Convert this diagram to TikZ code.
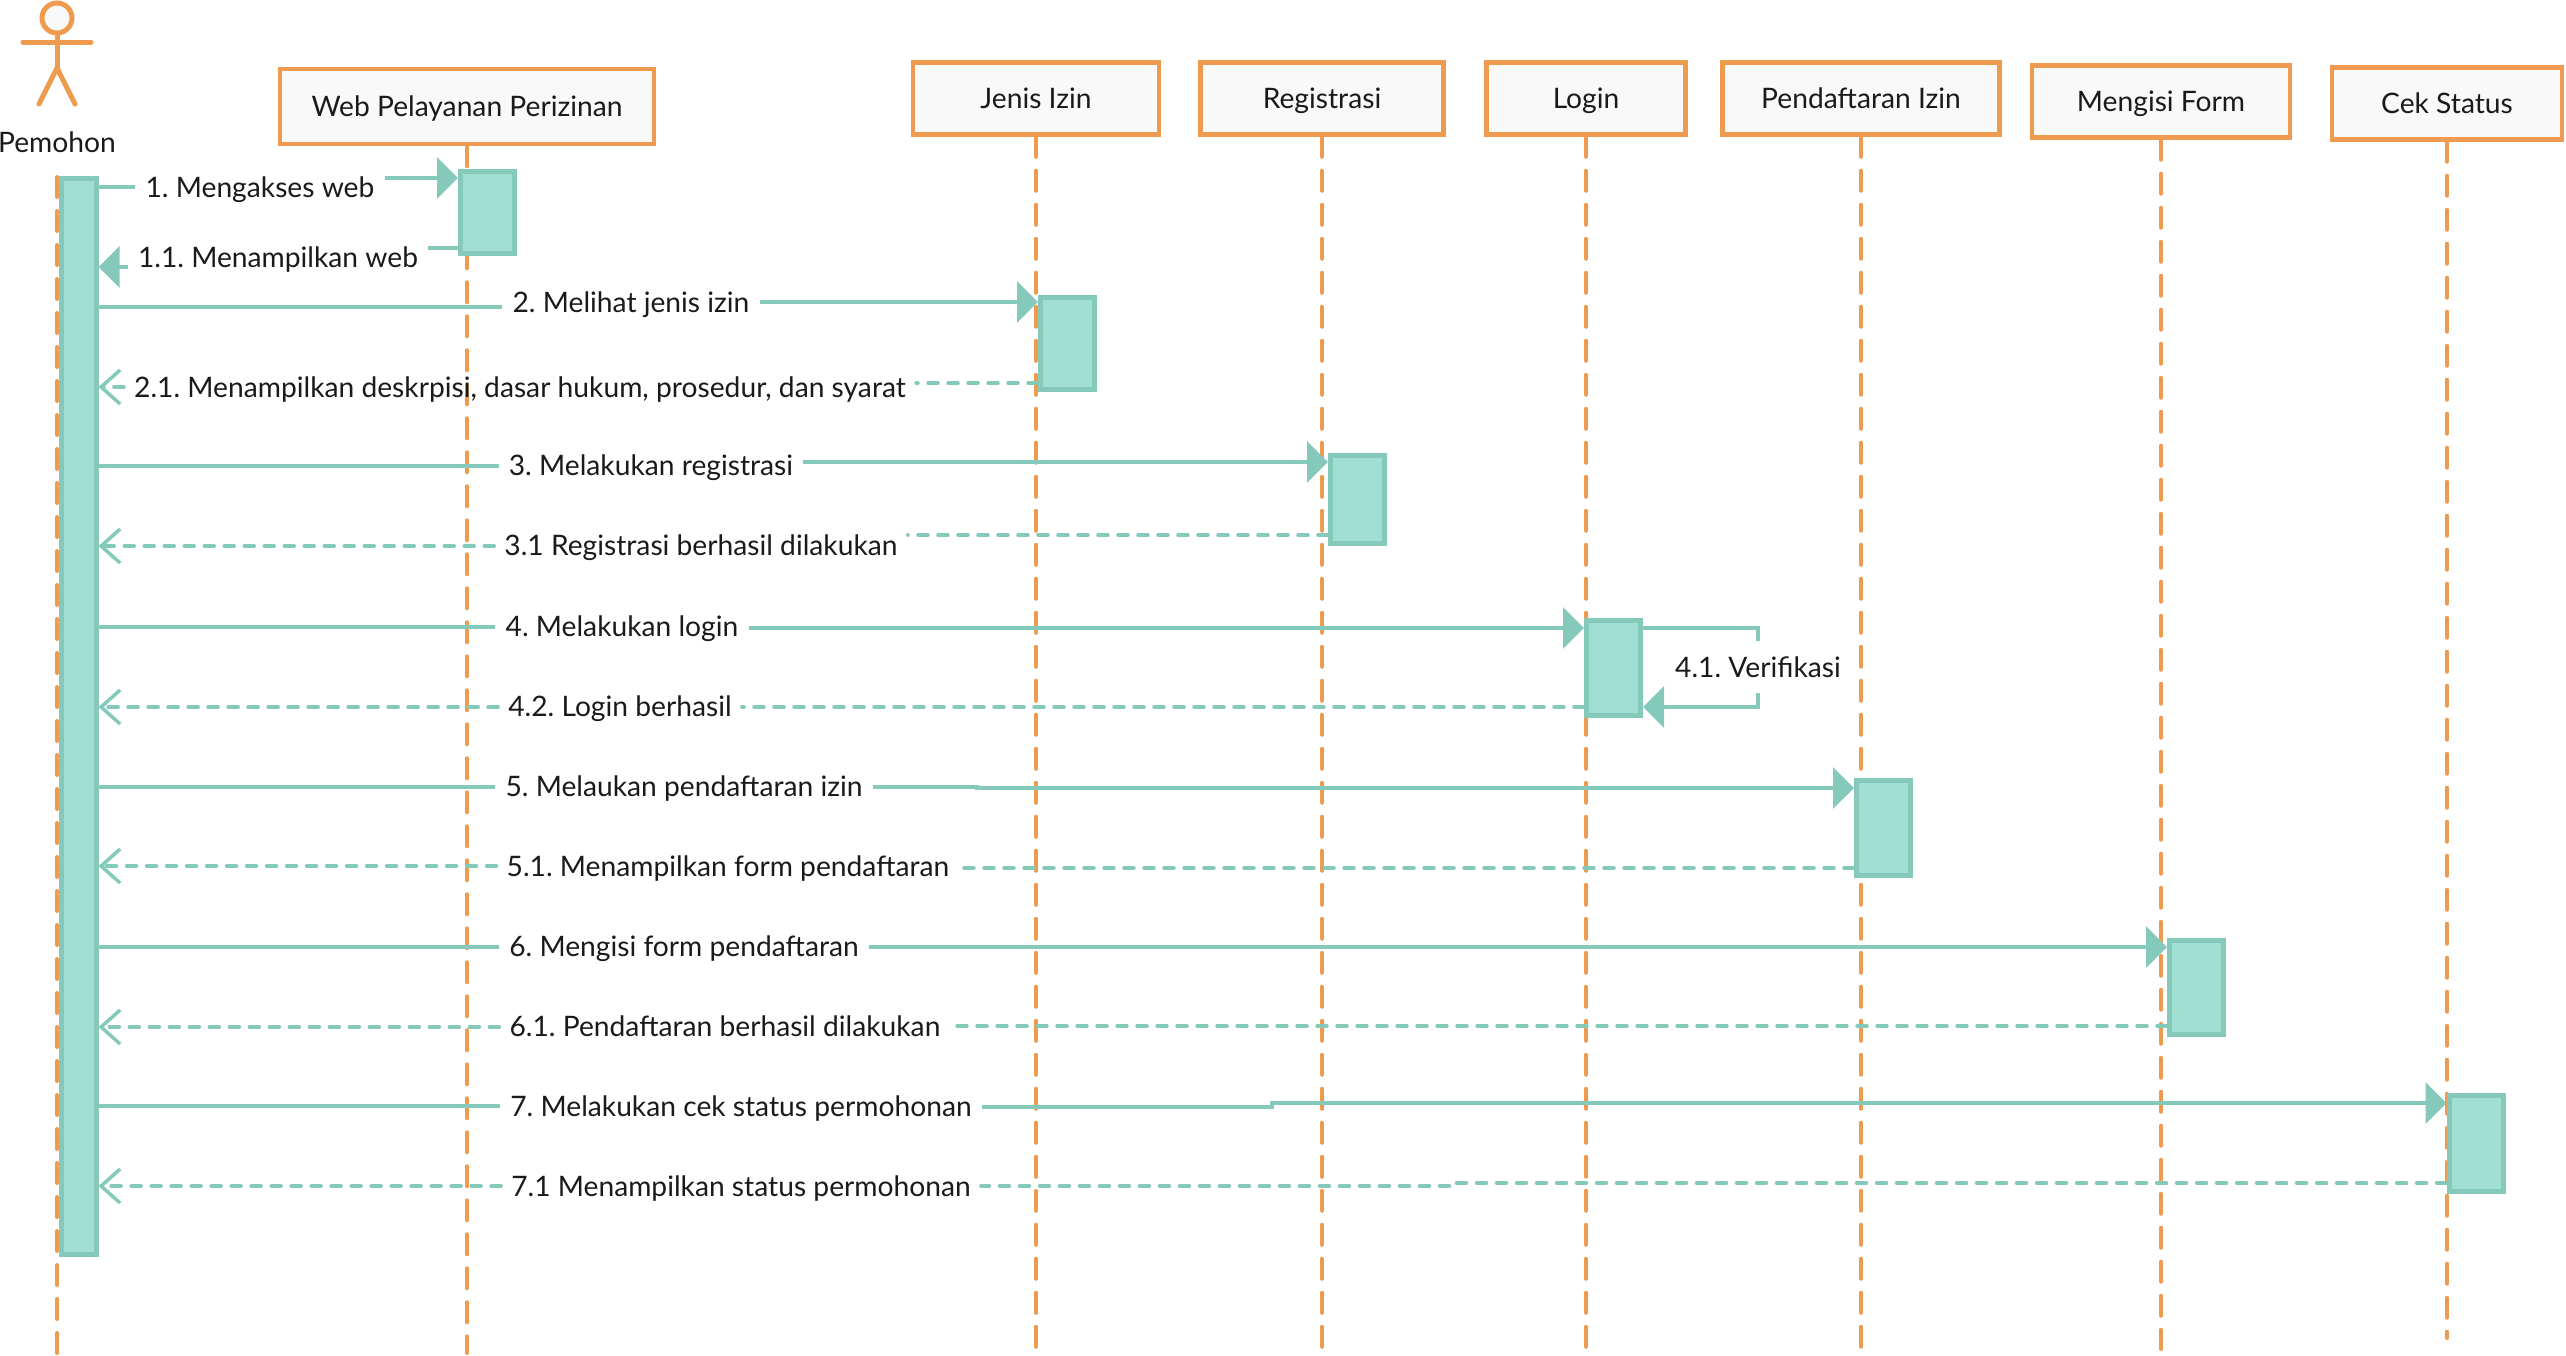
\documentclass[tikz,border=0pt]{standalone}
\usepackage{fontspec}
\setmainfont{Lato}
\usetikzlibrary{arrows.meta}
\definecolor{lineorange}{HTML}{EE9A4F}
\definecolor{linegreen}{HTML}{84C9B9}
\definecolor{fillgreen}{HTML}{A0DFD2}
\definecolor{fillgrey}{HTML}{F9F9F9}
\definecolor{inkgrey}{HTML}{1A1A1A}
\tikzset{
    x=1pt, y=-1pt,
    every node/.style={font=\fontsize{28.2}{33}\selectfont\frenchspacing, text=inkgrey},
    header/.style={draw=lineorange, fill=fillgrey, line width=4.5pt, minimum height=72pt, text height=22pt, text depth=3pt},
    life/.style={draw=lineorange, line width=4pt, line cap=round, dash pattern=on 20pt off 14pt},
    activation/.style={draw=linegreen, fill=fillgreen, line width=5pt, minimum width=54pt},
    msg/.style={inner xsep=10pt, inner ysep=0pt, text height=22pt, text depth=4pt},
    call/.style={draw=linegreen, line width=4pt},
    callarrow/.style={call, -{Triangle[length=21pt, width=41pt]}},
    reply/.style={draw=linegreen, line width=3.5pt, line cap=round, dash pattern=on 10pt off 10pt},
    replyarrow/.style={reply, -{Straight Barb[length=19pt, width=34pt, line width=3.5pt]}},
    actorline/.style={draw=lineorange, line width=5pt, line cap=round}
}
\begin{document}
\begin{tikzpicture}
    \useasboundingbox (0,0) rectangle (2566,1355);

    % actor
    \node[circle, draw=lineorange, fill=fillgrey, line width=5pt, minimum size=30pt, inner sep=0pt] (head) at (57,18) {};
    \node[coordinate] (hip) at (57,68) {};
    \draw[actorline] (head.south) -- (hip);
    \draw[actorline] (23,42) -- (91,42);
    \draw[actorline] (39,104) -- (hip) -- (75,104);
    \node (pemohon) at (57,142) {Pemohon};

    % headers
    \node[header, minimum width=374pt, minimum height=75pt] (hweb) at (467,106.5) {Web Pelayanan Perizinan};
    \node[header, minimum width=246pt] (hjenis) at (1036,98.5) {Jenis Izin};
    \node[header, minimum width=243pt] (hreg) at (1322,98.5) {Registrasi};
    \node[header, minimum width=199pt] (hlogin) at (1586,98.5) {Login};
    \node[header, minimum width=277pt] (hpend) at (1861,98.5) {Pendaftaran Izin};
    \node[header, minimum width=258pt] (hform) at (2161,101.5) {Mengisi Form};
    \node[header, minimum width=230pt] (hcek) at (2447,103.5) {Cek Status};

    % lifelines
    \draw[life] (pemohon |- 0,177) -- (pemohon |- 0,1353);
    \draw[life] (hweb.south) -- (hweb |- 0,1353);
    \draw[life] (hjenis.south) -- (hjenis |- 0,1347);
    \draw[life] (hreg.south) -- (hreg |- 0,1347);
    \draw[life] (hlogin.south) -- (hlogin |- 0,1347);
    \draw[life] (hpend.south) -- (hpend |- 0,1347);
    \draw[life] (hform.south) -- (hform |- 0,1349);
    \draw[life] (hcek.south) -- (hcek |- 0,1338);

    % activations
    \node[activation, minimum width=35pt, minimum height=1076pt] (apem) at (78.5,716.5) {};
    \node[activation, minimum height=82pt] (aweb) at (487.5,212) {};
    \node[activation, minimum height=92pt] (ajenis) at (1067.5,343) {};
    \node[activation, minimum height=88pt] (areg) at (1357.5,499) {};
    \node[activation, minimum height=95pt] (alogin) at (1613.5,667.5) {};
    \node[activation, minimum height=95pt] (apend) at (1883.5,827.5) {};
    \node[activation, minimum height=94pt] (aform) at (2196.5,987) {};
    \node[activation, minimum height=96pt] (acek) at (2476,1143) {};

    % messages
    \node[msg] (m1) at (260,188) {1. Mengakses web};
    \draw[call] (apem.east |- 0,187) -- (m1.west |- 0,187);
    \draw[callarrow] (m1.east |- 0,178) -- (aweb.west |- 0,178);

    \node[msg] (m11) at (278,258) {1.1. Menampilkan web};
    \draw[call] (aweb.west |- 0,248) -- (m11.east |- 0,248);
    \draw[callarrow] (m11.west |- 0,267) -- (apem.east |- 0,267);

    \node[msg] (m2) at (631,303) {2. Melihat jenis izin};
    \draw[call] (apem.east |- 0,307) -- (m2.west |- 0,307);
    \draw[callarrow] (m2.east |- 0,302) -- (ajenis.west |- 0,302);

    \node[msg] (m21) at (520,388) {2.1. Menampilkan deskrpisi, dasar hukum, prosedur, dan syarat};
    \draw[reply] (ajenis.west |- 0,383) -- (m21.east |- 0,383);
    \draw[replyarrow] (m21.west |- 0,387) -- (apem.east |- 0,387);

    \node[msg] (m3) at (651,466) {3. Melakukan registrasi};
    \draw[call] (apem.east |- 0,466) -- (m3.west |- 0,466);
    \draw[callarrow] (m3.east |- 0,462) -- (areg.west |- 0,462);

    \node[msg] (m31) at (701,546) {3.1 Registrasi berhasil dilakukan};
    \draw[reply] (areg.west |- 0,535) -- (m31.east |- 0,535);
    \draw[replyarrow] (m31.west |- 0,546) -- (apem.east |- 0,546);

    \node[msg] (m4) at (622,627) {4. Melakukan login};
    \draw[call] (apem.east |- 0,627) -- (m4.west |- 0,627);
    \draw[callarrow] (m4.east |- 0,628) -- (alogin.west |- 0,628);

    \node[msg] (m41) at (1758,668) {4.1. Verifikasi};
    \draw[call] (alogin.east |- 0,628) -| (m41.north |- 0,641);
    \draw[callarrow] (m41.south |- 0,693) |- (alogin.east |- 0,707);

    \node[msg] (m42) at (620,707) {4.2. Login berhasil};
    \draw[reply] (alogin.west |- 0,707) -- (m42.east |- 0,707);
    \draw[replyarrow] (m42.west |- 0,707) -- (apem.east |- 0,707);

    \node[msg] (m5) at (684,787) {5. Melaukan pendaftaran izin};
    \draw[call] (apem.east |- 0,787) -- (m5.west |- 0,787);
    \draw[callarrow] (m5.east |- 0,787) -- (977,787) -- (977,788) -- (apend.west |- 0,788);

    \node[msg] (m51) at (728,867) {5.1. Menampilkan form pendaftaran};
    \draw[reply] (apend.west |- 0,868) -- (m51.east |- 0,868);
    \draw[replyarrow] (m51.west |- 0,866) -- (apem.east |- 0,866);

    \node[msg] (m6) at (684,947) {6. Mengisi form pendaftaran};
    \draw[call] (apem.east |- 0,947) -- (m6.west |- 0,947);
    \draw[callarrow] (m6.east |- 0,947) -- (aform.west |- 0,947);

    \node[msg] (m61) at (725,1027) {6.1. Pendaftaran berhasil dilakukan};
    \draw[reply] (aform.west |- 0,1026) -- (m61.east |- 0,1026);
    \draw[replyarrow] (m61.west |- 0,1027) -- (apem.east |- 0,1027);

    \node[msg] (m7) at (741,1107) {7. Melakukan cek status permohonan};
    \draw[call] (apem.east |- 0,1106) -- (m7.west |- 0,1106);
    \draw[callarrow] (m7.east |- 0,1107) -- (1272,1107) -- (1272,1103) -- (acek.west |- 0,1103);

    \node[msg] (m71) at (741,1187) {7.1 Menampilkan status permohonan};
    \draw[reply] (acek.west |- 0,1183) -- (1450,1183) -- (1450,1186) -- (m71.east |- 0,1186);
    \draw[replyarrow] (m71.west |- 0,1186) -- (apem.east |- 0,1186);
\end{tikzpicture}
\end{document}
